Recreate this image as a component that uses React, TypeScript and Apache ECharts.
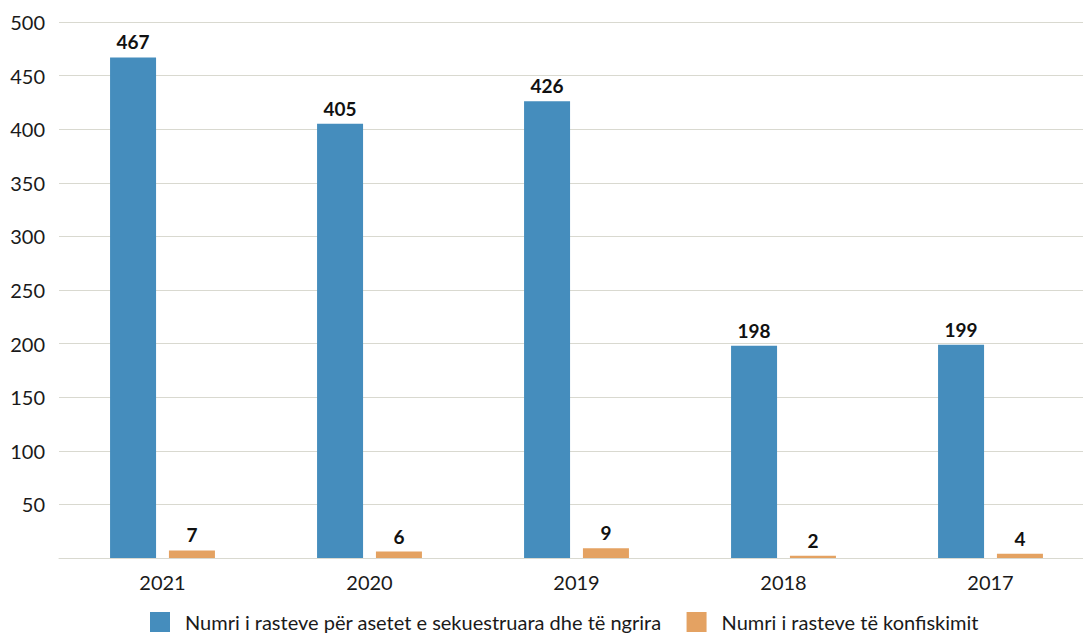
import React, { useEffect, useRef } from "react";
import * as echarts from "echarts";

const categories = ["2021", "2020", "2019", "2018", "2017"];
const seizedValues = [467, 405, 426, 198, 199];
const confiscatedValues = [7, 6, 9, 2, 4];
const seriesNames = [
  "Numri i rasteve për asetet e sekuestruara dhe të ngrira",
  "Numri i rasteve të konfiskimit",
];

const FONT = "Lato, 'Noto Sans', sans-serif";

export default function App() {
  const ref = useRef<HTMLDivElement>(null);
  useEffect(() => {
    if (!ref.current) return;
    const chart = echarts.init(ref.current, undefined, { renderer: "svg" });
    const labelStyle = {
      show: true,
      position: "top" as const,
      distance: 6,
      fontFamily: FONT,
      fontSize: 19,
      fontWeight: "bold" as const,
      color: "#111",
    };
    chart.setOption({
      animation: false,
      textStyle: { fontFamily: FONT },
      grid: {
        left: 59,
        width: 1035,
        top: 22,
        bottom: 75,
        containLabel: false,
        outerBoundsMode: "none",
      },
      legend: {
        left: 150,
        top: 612,
        padding: 0,
        itemWidth: 20,
        itemHeight: 20,
        itemGap: 25,
        icon: "rect",
        textStyle: { fontFamily: FONT, fontSize: 20, color: "#1a1a1a", padding: [0, 0, 0, 10] },
        data: seriesNames,
      },
      xAxis: {
        type: "category",
        data: categories,
        axisLine: { show: true, lineStyle: { color: "#d9d9d0", width: 1 } },
        axisTick: { show: false },
        axisLabel: { fontFamily: FONT, fontSize: 20, color: "#1a1a1a", margin: 14 },
      },
      yAxis: {
        type: "value",
        min: 0,
        max: 500,
        interval: 50,
        axisLine: { show: false },
        axisTick: { show: false },
        splitLine: { lineStyle: { color: "#d9d9d0", width: 1 } },
        axisLabel: {
          fontFamily: FONT,
          fontSize: 20,
          color: "#1a1a1a",
          margin: 14,
          formatter: (v: number) => (v === 0 ? "" : String(v)),
        },
      },
      series: [
        {
          name: seriesNames[0],
          type: "bar",
          data: seizedValues,
          barWidth: 46,
          barGap: "28%",
          itemStyle: { color: "#458dbd" },
          label: labelStyle,
        },
        {
          name: seriesNames[1],
          type: "bar",
          data: confiscatedValues,
          barWidth: 46,
          itemStyle: { color: "#e4a262" },
          label: labelStyle,
        },
      ],
    });
    return () => chart.dispose();
  }, []);
  return (
    <div
      ref={ref}
      style={{ position: "fixed", left: 0, top: 0, width: 1083, height: 633, background: "#fff" }}
    />
  );
}
